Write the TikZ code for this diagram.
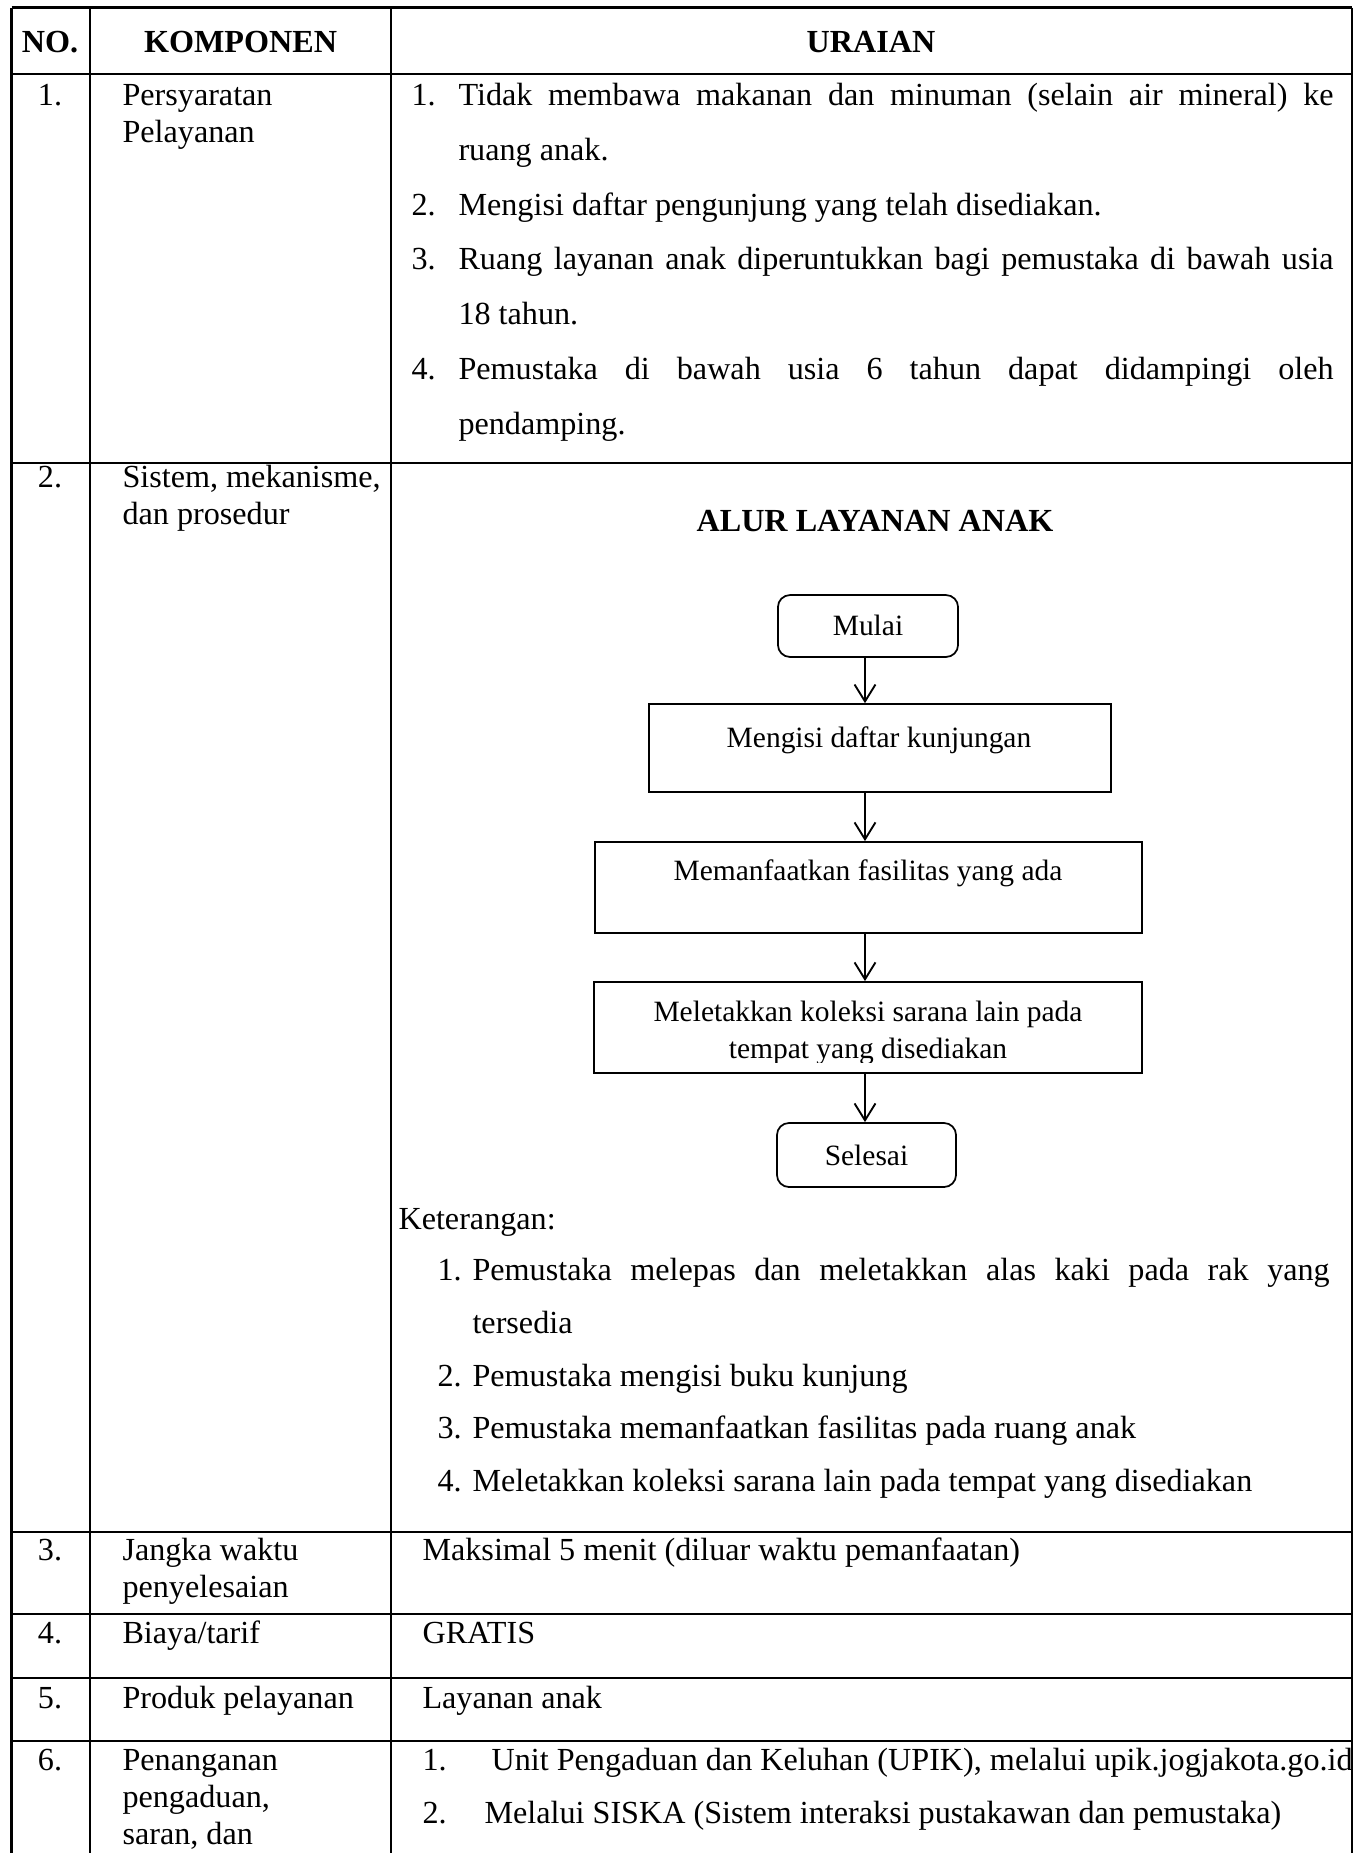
\documentclass[tikz,border=0pt]{standalone}
\usepackage{fontspec}
\setmainfont{Liberation Serif}
\usetikzlibrary{arrows.meta}

\begin{document}
\begin{tikzpicture}[x=0.3731pt, y=-0.3731pt,
  grid/.style={line width=1pt},
  body/.style={inner sep=0pt, font=\fontsize{12}{14}\selectfont},
  txt/.style={body, anchor=base west},
  num/.style={body, anchor=base},
  head/.style={inner sep=0pt, anchor=base, font=\fontsize{12}{14}\selectfont\bfseries},
  ftxt/.style={inner sep=0pt, anchor=base, font=\fontsize{11}{13}\selectfont},
  flowbox/.style={draw, line width=0.65pt, inner sep=0pt},
  termbox/.style={flowbox, rounded corners=4.5pt},
  flowarrow/.style={line width=0.7pt, -{Straight Barb[length=6.3pt, width=7.8pt, line width=0.7pt]}}
]
\clip (0,0) rectangle (1356,1853);
\fill[white] (0,0) rectangle (1356,1853);

% ---- table grid ----
\draw[grid] (11.5,7.5) -- (1352,7.5);
\foreach \yy in {74,463,1532,1614,1678,1741}
  \draw[grid] (11.5,\yy) -- (1352,\yy);
\foreach \xx in {11.5,90,391,1352}
  \draw[grid] (\xx,7.5) -- (\xx,1860);

% ---- header ----
\node[head] (hno)   at (50,52)    {NO.};
\node[head] (hkomp) at (240.5,52) {KOMPONEN};
\node[head] (hur)   at (871,52)   {URAIAN};

% ---- row 1 ----
\node[num] (n1) at (50,105) {1.};
\node[txt] (k1a) at (122,105) {Persyaratan};
\node[txt] (k1b) at (122,142) {Pelayanan};
\node[txt] (u1n1) at (411,105) {1.};
\node[txt] (u1a) at (458,105) {\makebox[326.5pt][s]{Tidak membawa makanan dan minuman (selain air mineral) ke}};
\node[txt] (u1b) at (458,160) {ruang anak.};
\node[txt] (u1n2) at (411,215) {2.};
\node[txt] (u1c) at (458,215) {Mengisi daftar pengunjung yang telah disediakan.};
\node[txt] (u1n3) at (411,269) {3.};
\node[txt] (u1d) at (458,269) {\makebox[326.5pt][s]{Ruang layanan anak diperuntukkan bagi pemustaka di bawah usia}};
\node[txt] (u1e) at (458,324) {18 tahun.};
\node[txt] (u1n4) at (411,379) {4.};
\node[txt] (u1f) at (458,379) {\makebox[326.5pt][s]{Pemustaka di bawah usia 6 tahun dapat didampingi oleh}};
\node[txt] (u1g) at (458,434) {pendamping.};

% ---- row 2 ----
\node[num] (n2) at (50,487) {2.};
\node[txt] (k2a) at (122,487) {Sistem, mekanisme,};
\node[txt] (k2b) at (122,524) {dan prosedur};
\node[head] (alur) at (875,531) {ALUR LAYANAN ANAK};

% flowchart
\coordinate (axis) at (865,600);
\node[termbox, minimum width=67.2pt, minimum height=23.1pt] (mulai) at (868,626) {};
\node[ftxt] (mulait) at (868,635) {Mulai};
\node[flowbox, minimum width=172.4pt, minimum height=32.8pt] (isi) at (880,748) {};
\node[ftxt] (isit) at (879,747) {Mengisi daftar kunjungan};
\node[flowbox, minimum width=204.1pt, minimum height=34pt] (manfaat) at (868.5,887.5) {};
\node[ftxt] (manfaatt) at (868,880) {Memanfaatkan fasilitas yang ada};
\node[flowbox, minimum width=204.5pt, minimum height=34pt] (letak) at (868,1027.5) {};
\node[ftxt] (letakt1) at (868,1021) {Meletakkan koleksi sarana lain pada};
\begin{scope}
  \clip (595,1030) rectangle (1141,1062.5);
  \node[ftxt] (letakt2) at (868,1058) {tempat yang disediakan};
\end{scope}
\node[termbox, minimum width=66.8pt, minimum height=23.9pt] (selesai) at (866.5,1155) {};
\node[ftxt] (selesait) at (866.5,1165) {Selesai};

\draw[flowarrow] (mulai.south -| axis) -- (isi.north -| axis);
\draw[flowarrow] (isi.south -| axis) -- (manfaat.north -| axis);
\draw[flowarrow] (manfaat.south -| axis) -- (letak.north -| axis);
\draw[flowarrow] (letak.south -| axis) -- (selesai.north -| axis);

% legend
\node[txt] (ket) at (398,1229) {Keterangan:};
\node[txt] (kn1) at (437,1280) {1.};
\node[txt] (k1) at (472,1280) {\makebox[319.8pt][s]{Pemustaka melepas dan meletakkan alas kaki pada rak yang}};
\node[txt] (k1c) at (472,1333) {tersedia};
\node[txt] (kn2) at (437,1386) {2.};
\node[txt] (k2) at (472,1386) {Pemustaka mengisi buku kunjung};
\node[txt] (kn3) at (437,1438) {3.};
\node[txt] (k3) at (472,1438) {Pemustaka memanfaatkan fasilitas pada ruang anak};
\node[txt] (kn4) at (437,1491) {4.};
\node[txt] (k4) at (472,1491) {Meletakkan koleksi sarana lain pada tempat yang disediakan};

% ---- row 3 ----
\node[num] (n3) at (50,1560) {3.};
\node[txt] (k3a) at (122,1560) {Jangka waktu};
\node[txt] (k3b) at (122,1597) {penyelesaian};
\node[txt] (u3) at (422,1560) {Maksimal 5 menit (diluar waktu pemanfaatan)};

% ---- row 4 ----
\node[num] (n4) at (50,1643) {4.};
\node[txt] (k4a) at (122,1643) {Biaya/tarif};
\node[txt] (u4) at (422,1643) {GRATIS};

% ---- row 5 ----
\node[num] (n5) at (50,1708) {5.};
\node[txt] (k5a) at (122,1708) {Produk pelayanan};
\node[txt] (u5) at (422,1708) {Layanan anak};

% ---- row 6 ----
\node[num] (n6) at (50,1770) {6.};
\node[txt] (k6a) at (122,1770) {Penanganan};
\node[txt] (k6b) at (122,1807) {pengaduan,};
\node[txt] (k6c) at (122,1844) {saran, dan};
\node[txt] (u6n1) at (422,1770) {1.};
\node[txt] (u6a) at (491,1770) {Unit Pengaduan dan Keluhan (UPIK), melalui upik.jogjakota.go.id};
\node[txt] (u6n2) at (422,1823) {2.};
\node[txt] (u6b) at (484,1823) {Melalui SISKA (Sistem interaksi pustakawan dan pemustaka)};
\end{tikzpicture}
\end{document}
